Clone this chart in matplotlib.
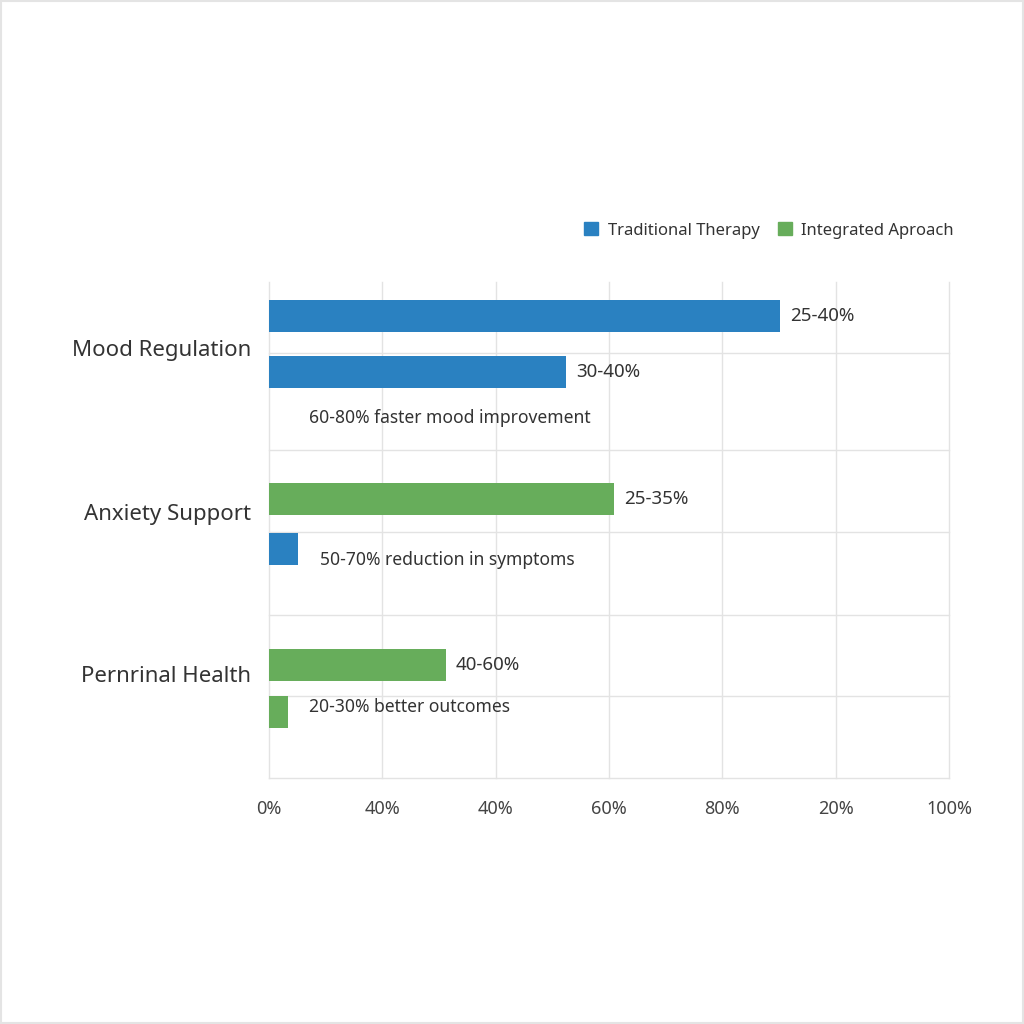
import matplotlib.pyplot as plt
from matplotlib.patches import Patch, Rectangle

plt.rcParams['font.family'] = ['Noto Sans', 'DejaVu Sans']

# data (axis units: one tick = 20)
categories = ['Mood Regulation', 'Anxiety Support', 'Pernrinal Health']
bar_values = [90.2, 52.4, 60.9, 5.1, 31.2, 3.4]
bar_series = ['Traditional Therapy', 'Traditional Therapy', 'Integrated Aproach',
              'Traditional Therapy', 'Integrated Aproach', 'Integrated Aproach']
bar_labels = ['25-40%', '30-40%', '25-35%', None, '40-60%', None]
notes = ['60-80% faster mood improvement', '50-70% reduction in symptoms',
         '20-30% better outcomes']
tick_values = [0, 20, 40, 60, 80, 100, 120]
tick_labels = ['0%', '40%', '40%', '60%', '80%', '20%', '100%']

colors = {'Traditional Therapy': '#2a81c1', 'Integrated Aproach': '#67ad5b'}
text_color = '#333333'
grid_color = '#e3e3e3'

# layout (vertical positions in pixels from top of plot area)
bar_y = [34, 89.5, 216.5, 266.5, 383, 430]
bar_h = 32
grid_y = [71, 168, 250, 333, 414, 496]
cat_y = [68, 232, 394]
note_x = [7, 9, 7]
note_y = [136, 278, 425]

fig = plt.figure(figsize=(10.24, 10.24), dpi=100)
ax = fig.add_axes([0.2627, 0.2402, 0.6641, 0.4844])

ax.set_xlim(0, 120)
ax.set_ylim(496, 0)

for x in tick_values:
    ax.axvline(x, color=grid_color, lw=1, zorder=0, clip_on=False)
for y in grid_y:
    ax.axhline(y, color=grid_color, lw=1, zorder=0, clip_on=False)

for v, s, y, lab in zip(bar_values, bar_series, bar_y, bar_labels):
    ax.barh(y, v, height=bar_h, color=colors[s], zorder=2)
    if lab:
        ax.text(v + 1.8, y, lab, va='center', ha='left', fontsize=13.5, color=text_color)

for t, x, y in zip(notes, note_x, note_y):
    ax.text(x, y, t, va='center', ha='left', fontsize=12.6, color=text_color)

for c, y in zip(categories, cat_y):
    ax.text(-3.1, y, c, va='center', ha='right', fontsize=16, color=text_color,
            fontweight='medium')

ax.set_xticks(tick_values)
ax.set_xticklabels(tick_labels, fontsize=13, color='#444444')
ax.tick_params(axis='x', length=0, pad=16)
ax.set_yticks([])
for sp in ax.spines.values():
    sp.set_visible(False)

handles = [Patch(color=colors[k], label=k) for k in colors]
fig.legend(handles=handles, loc='center right', bbox_to_anchor=(0.946, 0.775),
           ncol=2, frameon=False, fontsize=12, handlelength=0.85, handleheight=0.85,
           handletextpad=0.55, columnspacing=1.1, labelcolor=text_color)

# faint frame round the picture
fig.patches.append(Rectangle((0.001, 0.001), 0.998, 0.998, transform=fig.transFigure,
                             fill=False, edgecolor='#e4e4e4', lw=1.5))

fig.savefig('out.png', dpi=100, facecolor='white')
